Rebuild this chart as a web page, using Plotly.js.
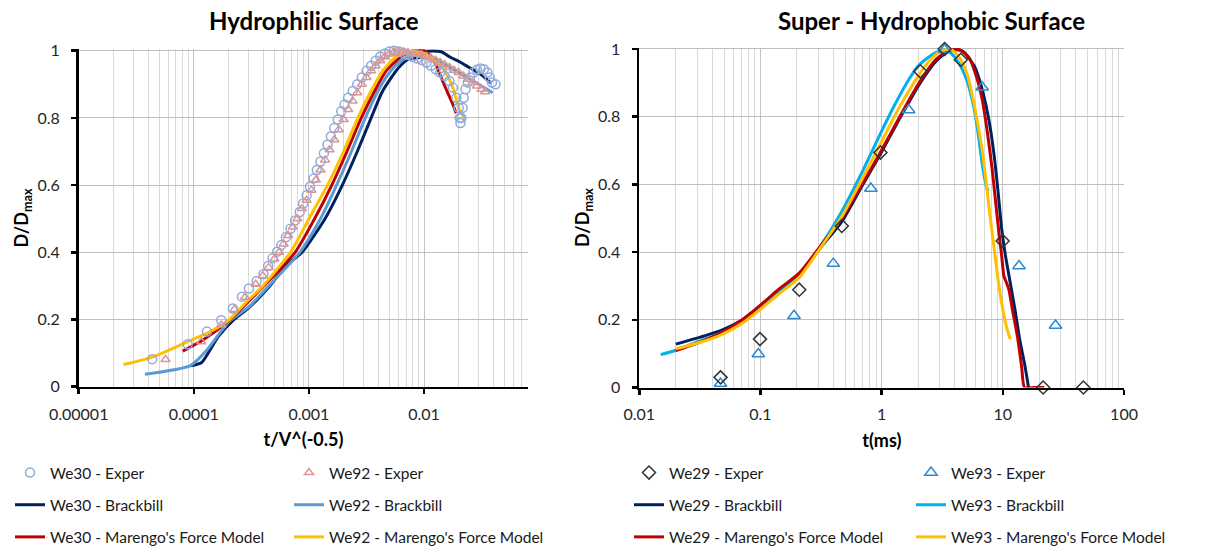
<!DOCTYPE html>
<html>
<head>
<meta charset="utf-8">
<script src="https://cdn.plot.ly/plotly-3.0.1.min.js"></script>
<style>html,body{margin:0;padding:0;background:#fff;}#chart{width:1205px;height:549px;}</style>
</head>
<body>
<div id="chart"></div>
<script>
// ---------- Left chart: Hydrophilic Surface ----------
const leftTicks = [1e-5, 1e-4, 1e-3, 1e-2];
const leftTickText = ['0.00001', '0.0001', '0.001', '0.01'];

const we30ExpX = [4.35e-5,8.85e-5,1.30e-4,1.73e-4,2.18e-4,2.62e-4,3.01e-4,3.51e-4,4.03e-4,4.42e-4,4.83e-4,5.30e-4,5.77e-4,6.31e-4,6.92e-4,7.59e-4,8.32e-4,8.91e-4,9.55e-4,1.02e-3,1.10e-3,1.17e-3,1.26e-3,1.35e-3,1.45e-3,1.55e-3,1.66e-3,1.78e-3,1.91e-3,2.04e-3,2.19e-3,2.40e-3,2.63e-3,2.88e-3,3.16e-3,3.47e-3,3.80e-3,4.17e-3,4.57e-3,5.01e-3,5.50e-3,6.03e-3,6.61e-3,7.24e-3,7.94e-3,8.71e-3,9.55e-3,1.05e-2,1.15e-2,1.26e-2,1.38e-2,1.51e-2,1.66e-2,1.78e-2,1.91e-2,2.00e-2,2.04e-2,2.07e-2,2.11e-2,2.16e-2,2.21e-2,2.29e-2,2.40e-2,2.51e-2,2.69e-2,2.88e-2,3.09e-2,3.31e-2,3.55e-2,3.72e-2,3.89e-2,4.17e-2];
const we30ExpY = [0.082,0.126,0.164,0.198,0.233,0.268,0.292,0.314,0.335,0.359,0.382,0.402,0.422,0.445,0.47,0.495,0.52,0.545,0.57,0.595,0.62,0.645,0.67,0.695,0.72,0.745,0.77,0.795,0.82,0.84,0.86,0.88,0.90,0.92,0.94,0.955,0.97,0.983,0.992,0.998,1.0,0.998,0.993,0.988,0.982,0.977,0.972,0.965,0.955,0.945,0.935,0.925,0.91,0.89,0.86,0.83,0.80,0.785,0.80,0.83,0.86,0.885,0.905,0.92,0.935,0.943,0.947,0.945,0.935,0.92,0.905,0.90];

const we92ExpX = [5.68e-5,1.16e-4,1.73e-4,2.25e-4,2.79e-4,3.45e-4,3.98e-4,4.47e-4,5.01e-4,5.50e-4,6.03e-4,6.61e-4,7.24e-4,7.94e-4,8.71e-4,9.55e-4,1.05e-3,1.15e-3,1.26e-3,1.38e-3,1.51e-3,1.66e-3,1.82e-3,2.00e-3,2.19e-3,2.40e-3,2.63e-3,2.88e-3,3.16e-3,3.47e-3,3.80e-3,4.17e-3,4.57e-3,5.01e-3,5.50e-3,6.03e-3,6.61e-3,7.24e-3,7.94e-3,8.71e-3,9.55e-3,1.05e-2,1.15e-2,1.26e-2,1.38e-2,1.51e-2,1.66e-2,1.82e-2,2.00e-2,2.19e-2,2.40e-2,2.63e-2,2.88e-2,3.16e-2,3.39e-2];
const we92ExpY = [0.081,0.134,0.184,0.230,0.266,0.305,0.33,0.355,0.38,0.40,0.425,0.45,0.475,0.50,0.53,0.555,0.585,0.615,0.645,0.675,0.705,0.735,0.765,0.795,0.825,0.85,0.875,0.90,0.92,0.94,0.955,0.97,0.982,0.99,0.996,0.998,0.997,0.995,0.992,0.99,0.987,0.983,0.978,0.972,0.965,0.958,0.95,0.942,0.935,0.925,0.915,0.905,0.895,0.885,0.878];

const we30BrackX = [9.33e-5,1.17e-4,1.63e-4,2.24e-4,3.01e-4,4.57e-4,6.31e-4,8.71e-4,1.38e-3,1.95e-3,2.63e-3,3.47e-3,4.37e-3,6.03e-3,7.46e-3,9.12e-3,1.02e-2,1.41e-2,1.66e-2,2.03e-2,2.47e-2,3.02e-2,3.69e-2,3.82e-2];
const we30BrackY = [0.0625,0.072,0.149,0.20,0.235,0.30,0.36,0.40,0.50,0.60,0.70,0.80,0.88,0.95,0.977,0.98,0.997,0.997,0.982,0.967,0.95,0.933,0.908,0.903];

const we92BrackX = [3.76e-5,9.33e-5,1.30e-4,1.76e-4,2.04e-4,3.02e-4,4.42e-4,8.32e-4,1.26e-3,1.74e-3,2.34e-3,3.09e-3,3.98e-3,5.01e-3,6.31e-3,7.94e-3,1.0e-2,1.26e-2,1.58e-2,2.0e-2,2.51e-2,3.16e-2,3.94e-2];
const we92BrackY = [0.037,0.0625,0.109,0.169,0.195,0.238,0.298,0.40,0.50,0.60,0.70,0.80,0.88,0.935,0.97,0.985,0.99,0.975,0.955,0.935,0.915,0.895,0.875];

const we30MarX = [8.02e-5,1.20e-4,2.04e-4,3.80e-4,7.59e-4,1.12e-3,1.58e-3,2.14e-3,2.85e-3,3.72e-3,4.68e-3,6.31e-3,7.94e-3,1.0e-2,1.12e-2,1.26e-2,1.36e-2,1.58e-2,1.78e-2,1.90e-2];
const we30MarY = [0.106,0.139,0.198,0.29,0.40,0.50,0.60,0.70,0.80,0.88,0.94,0.982,0.998,1.0,0.985,0.96,0.933,0.88,0.84,0.814];

const we92MarX = [2.45e-5,4.45e-5,9.55e-5,1.41e-4,2.04e-4,2.82e-4,3.98e-4,6.92e-4,1.0e-3,1.45e-3,2.0e-3,2.66e-3,3.47e-3,4.37e-3,5.62e-3,7.59e-3,9.55e-3,1.20e-2,1.51e-2,1.78e-2,2.0e-2,2.24e-2];
const we92MarY = [0.066,0.089,0.139,0.165,0.20,0.25,0.30,0.40,0.50,0.60,0.70,0.80,0.88,0.94,0.98,0.998,0.995,0.975,0.94,0.89,0.83,0.80];

// ---------- Right chart: Super - Hydrophobic Surface ----------
const rightTicks = [0.01, 0.1, 1, 10, 100];
const rightTickText = ['0.01', '0.1', '1', '10', '100'];
const yTicks = [0, 0.2, 0.4, 0.6, 0.8, 1];
const yTickText = ['0', '0.2', '0.4', '0.6', '0.8', '1'];

const we29ExpX = [0.0468,0.099,0.209,0.469,0.977,2.08,3.31,4.5,9.95,21.5,46.2];
const we29ExpY = [0.030,0.143,0.289,0.477,0.694,0.934,1.0,0.968,0.433,0,0];

const we93ExpX = [0.0468,0.096,0.189,0.399,0.815,1.67,3.31,6.75,13.6,27.2];
const we93ExpY = [0.012,0.099,0.212,0.366,0.588,0.820,0.998,0.887,0.359,0.183];

const we29BrackX = [0.02,0.0294,0.0468,0.0708,0.099,0.141,0.209,0.316,0.469,0.676,0.977,1.41,2.08,2.82,3.55,4.17,4.68,5.83,6.76,7.76,8.51,9.12,9.77,10.5,11.5,12.6,13.8,15.1,16.3];
const we29BrackY = [0.128,0.145,0.168,0.20,0.24,0.285,0.333,0.415,0.49,0.59,0.69,0.795,0.90,0.965,0.993,0.998,0.993,0.949,0.88,0.78,0.68,0.58,0.47,0.39,0.31,0.23,0.14,0.07,0.0];

const we29MarX = [0.02,0.0294,0.0468,0.0708,0.099,0.141,0.209,0.316,0.469,0.676,0.977,1.41,2.08,2.82,3.55,4.37,5.25,6.03,6.76,7.41,8.13,8.71,9.33,9.77,10.2,10.7,11.2,12.0,13.2,14.3,15.1,17.8,22.0];
const we29MarY = [0.109,0.13,0.16,0.20,0.242,0.29,0.338,0.42,0.50,0.595,0.695,0.80,0.905,0.97,0.995,0.998,0.975,0.92,0.85,0.76,0.65,0.55,0.45,0.39,0.33,0.31,0.29,0.23,0.15,0.06,0.0,0.0,0.0];

const we93BrackX = [0.015,0.02,0.0294,0.0468,0.0708,0.099,0.141,0.209,0.316,0.469,0.676,0.977,1.26,1.67,2.0,2.42,2.82,3.31,3.80,4.35,5.01,5.42,5.89,6.31,6.76,7.24,7.53];
const we93BrackY = [0.097,0.11,0.133,0.16,0.195,0.235,0.28,0.33,0.42,0.52,0.63,0.75,0.83,0.909,0.95,0.975,0.99,0.998,0.985,0.958,0.91,0.87,0.81,0.74,0.66,0.60,0.58];

const we93MarX = [0.02,0.0294,0.0468,0.0708,0.099,0.141,0.209,0.316,0.469,0.676,0.977,1.41,2.08,2.63,3.16,3.75,4.37,5.04,5.62,6.27,6.76,7.26,7.76,8.41,9.12,9.77,10.7,11.5];
const we93MarY = [0.114,0.13,0.155,0.19,0.23,0.275,0.325,0.415,0.505,0.61,0.72,0.83,0.929,0.975,0.995,0.998,0.975,0.929,0.86,0.77,0.70,0.61,0.52,0.42,0.32,0.25,0.18,0.143];

// ---------- styles ----------
const FONT = 'Lato, "Open Sans", sans-serif';
const NAVY = '#002060', LBLUE = '#5B9BD5', RED = '#C00000', GOLD = '#FFC000', CYAN = '#00B0F0';
const LW = 3;

function lineTrace(x, y, name, color, xa, ya, legend, rank) {
  return {x: x, y: y, name: name, type: 'scatter', mode: 'lines',
    line: {color: color, width: LW, shape: 'spline', smoothing: 0.6},
    xaxis: xa, yaxis: ya, legend: legend, legendgroup: name, legendrank: rank, hoverinfo: 'skip'};
}
function markerTrace(x, y, name, symbol, color, size, xa, ya, legend, rank) {
  return {x: x, y: y, name: name, type: 'scatter', mode: 'markers', cliponaxis: false,
    marker: {symbol: symbol, size: size, color: color, line: {color: color, width: 1.5}},
    xaxis: xa, yaxis: ya, legend: legend, legendgroup: name, legendrank: rank, hoverinfo: 'skip'};
}

const traces = [
  lineTrace(we30BrackX, we30BrackY, 'We30 - Brackbill', NAVY, 'x', 'y', 'legend', 2),
  lineTrace(we92BrackX, we92BrackY, 'We92 - Brackbill', LBLUE, 'x', 'y', 'legend2', 2),
  lineTrace(we30MarX, we30MarY, "We30 - Marengo's Force Model", RED, 'x', 'y', 'legend', 3),
  lineTrace(we92MarX, we92MarY, "We92 - Marengo's Force Model", GOLD, 'x', 'y', 'legend2', 3),
  markerTrace(we30ExpX, we30ExpY, 'We30 - Exper', 'circle-open', '#8FAADC', 9, 'x', 'y', 'legend', 1),
  markerTrace(we92ExpX, we92ExpY, 'We92 - Exper', 'triangle-up-open', '#D99694', 8, 'x', 'y', 'legend2', 1),

  lineTrace(we29BrackX, we29BrackY, 'We29 - Brackbill', NAVY, 'x2', 'y2', 'legend3', 2),
  lineTrace(we93BrackX, we93BrackY, 'We93 - Brackbill', CYAN, 'x2', 'y2', 'legend4', 2),
  lineTrace(we29MarX, we29MarY, "We29 - Marengo's Force Model", RED, 'x2', 'y2', 'legend3', 3),
  lineTrace(we93MarX, we93MarY, "We93 - Marengo's Force Model", GOLD, 'x2', 'y2', 'legend4', 3),
  markerTrace(we93ExpX, we93ExpY, 'We93 - Exper', 'triangle-up-open', '#2F8AD0', 11, 'x2', 'y2', 'legend4', 1),
  markerTrace(we29ExpX, we29ExpY, 'We29 - Exper', 'diamond-open', '#333333', 10, 'x2', 'y2', 'legend3', 1)
];

function minorVals(lo, hi) {
  const v = [];
  for (let e = lo; e < hi; e++) {
    for (let d = 2; d <= 9; d++) v.push(d * Math.pow(10, e));
  }
  return v;
}

const W = 1205, H = 549;
const tickFont = {family: FONT, size: 16, color: '#262626'};
const titleFont = {family: FONT, size: 18, color: '#000000', weight: 700};
const YPAD = 0.004; // small headroom so the gridline at 1 is drawn

function xAxis(domain, range, tv, tt, minor, title) {
  return {type: 'log', domain: domain, range: range, tickmode: 'array', tickvals: tv, ticktext: tt,
    showline: true, linecolor: '#000', linewidth: 2.7, ticks: 'outside', ticklen: 5, tickwidth: 2.5, tickcolor: '#000',
    showgrid: true, gridcolor: '#c4c4c4', gridwidth: 1, zeroline: false, tickfont: tickFont, ticklabelstandoff: 6,
    minor: {tickmode: 'array', tickvals: minor, showgrid: true, gridcolor: '#d9d9d9', gridwidth: 1, ticks: ''},
    title: {text: title, font: titleFont, standoff: 12}, automargin: false, fixedrange: true};
}
function yAxis(bottomPx, topPx, anchor) {
  const len = bottomPx - topPx;
  return {domain: [1 - bottomPx / H, 1 - (topPx - YPAD * len) / H], range: [0, 1 + YPAD],
    tickmode: 'array', tickvals: yTicks, ticktext: yTickText, anchor: anchor,
    showline: true, linecolor: '#000', linewidth: 2.7, ticks: 'outside', ticklen: 5, tickwidth: 2.5, tickcolor: '#000',
    showgrid: true, gridcolor: '#bfbfbf', gridwidth: 1, zeroline: false, tickfont: tickFont, ticklabelstandoff: 8,
    title: {text: 'D/D<sub>max</sub>', font: titleFont, standoff: 4}, automargin: false, fixedrange: true};
}

const legendBase = {orientation: 'v', xanchor: 'left', yanchor: 'top', bgcolor: 'rgba(0,0,0,0)',
  font: {family: FONT, size: 15.5, color: '#1a1a1a'}, tracegroupgap: 9, traceorder: 'grouped'};
const legendTop = 1 - 456 / H;

const leftRight = Math.log10(0.08);
const layout = {
  width: W, height: H, margin: {l: 0, r: 0, t: 0, b: 0, autoexpand: false},
  paper_bgcolor: '#fff', plot_bgcolor: '#fff', showlegend: true,
  xaxis: xAxis([78.7 / W, (528 + 0.35) / W], [-5, leftRight + 0.003], leftTicks, leftTickText, minorVals(-5, -1).filter(v => v <= 0.0801), 't/V^(-0.5)'),
  yaxis: yAxis(386.7, 50.7, 'x'),
  xaxis2: xAxis([639.3 / W, (1124 + 0.4) / W], [-2, 2.003], rightTicks, rightTickText, minorVals(-2, 2).concat([100]), 't(ms)'),
  yaxis2: yAxis(387.5, 49, 'x2'),
  legend: Object.assign({}, legendBase, {x: 10 / W, y: legendTop}),
  legend2: Object.assign({}, legendBase, {x: 289 / W, y: legendTop}),
  legend3: Object.assign({}, legendBase, {x: 629 / W, y: legendTop}),
  legend4: Object.assign({}, legendBase, {x: 911 / W, y: legendTop}),
  annotations: [
    {text: 'Hydrophilic Surface', x: 314 / W, y: 1 - 20 / H, xref: 'paper', yref: 'paper', xanchor: 'center', yanchor: 'middle', showarrow: false, font: {family: FONT, size: 24, color: '#000', weight: 700}},
    {text: 'Super - Hydrophobic Surface', x: 931 / W, y: 1 - 20 / H, xref: 'paper', yref: 'paper', xanchor: 'center', yanchor: 'middle', showarrow: false, font: {family: FONT, size: 24, color: '#000', weight: 700}}
  ]
};
layout.xaxis.anchor = 'y';
layout.xaxis2.anchor = 'y2';

Plotly.newPlot('chart', traces, layout, {displayModeBar: false, staticPlot: true});
</script>
</body>
</html>
